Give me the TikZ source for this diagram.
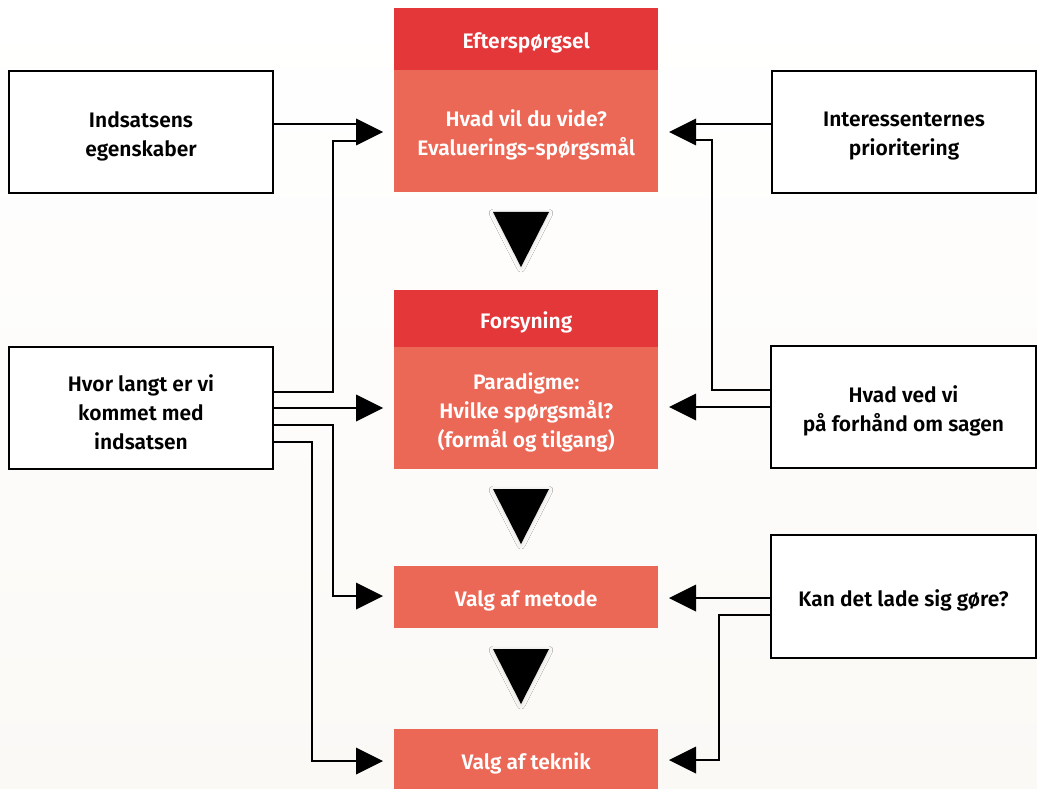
\documentclass[tikz,border=0pt]{standalone}
\usepackage{fontspec}
\setmainfont{Fira Sans}[BoldFont={Fira Sans SemiBold}]
\usetikzlibrary{shadows.blur}
\definecolor{hdr}{RGB}{227,55,58}
\definecolor{bdy}{RGB}{235,104,87}
\definecolor{bgb}{RGB}{251,249,246}
\tikzset{
  txt/.style={font=\bfseries\fontsize{21}{29}\selectfont, align=center, inner sep=0pt, yshift=-4pt},
  ltxt/.style={txt, text=black},
  wtxt/.style={txt, text=white},
  lbox/.style={draw=black, line width=2pt, fill=white, inner sep=0pt, anchor=north west, minimum width=264pt, minimum height=122pt},
  rhead/.style={fill=hdr, inner sep=0pt, anchor=north west, minimum width=264pt},
  rbody/.style={fill=bdy, inner sep=0pt, anchor=north west, minimum width=264pt},
  conn/.style={line width=2pt, line join=miter, draw=black},
  ahead/.style={fill=black},
  tri/.style={fill=black, blur shadow={shadow xshift=0pt, shadow yshift=-1pt, shadow blur radius=4pt, shadow opacity=14}}
}
\newcommand{\arrR}[2]{\fill[ahead] (#1-27,#2-13.5) -- (#1,#2) -- (#1-27,#2+13.5) -- cycle;}
\newcommand{\arrL}[2]{\fill[ahead] (#1+27,#2-13.5) -- (#1,#2) -- (#1+27,#2+13.5) -- cycle;}
\newcommand{\downtri}[1]{\fill[tri] (493,#1) -- (549,#1) -- (521,#1+55) -- cycle;}
\begin{document}
\begin{tikzpicture}[x=1pt,y=-1pt]
\useasboundingbox (0,0) rectangle (1037,789);
\shade[top color=white, bottom color=bgb] (0,0) rectangle (1037,789);

% central column
\node[rhead, minimum height=62pt] (efth) at (394,8) {};
\node[rbody, minimum height=122pt] (eftb) at (394,70) {};
\node[rhead, minimum height=57pt] (forh) at (394,290) {};
\node[rbody, minimum height=122pt] (forb) at (394,347) {};
\node[rbody, minimum height=62pt] (met) at (394,566) {};
\node[rbody, minimum height=60pt] (tek) at (394,729) {};
\node[wtxt] (efth-t) at (efth.center) {Efterspørgsel};
\node[wtxt] (eftb-t) at (eftb.center) {Hvad vil du vide?\\Evaluerings-spørgsmål};
\node[wtxt] (forh-t) at (forh.center) {Forsyning};
\node[wtxt] (forb-t) at (forb.center) {Paradigme:\\Hvilke spørgsmål?\\(formål og tilgang)};
\node[wtxt] (met-t) at (met.center) {Valg af metode};
\node[wtxt] (tek-t) at (tek.center) {Valg af teknik};

\downtri{212}
\downtri{489}
\downtri{649}

% side boxes
\node[lbox] (ind) at (8,70) {};
\node[lbox] (hvor) at (8,346) {};
\node[lbox] (int) at (771,70) {};
\node[lbox, minimum width=265pt] (hvad) at (770,345) {};
\node[lbox, minimum width=265pt, minimum height=123pt] (kan) at (770,534) {};
\node[ltxt] (ind-t) at (ind.center) {Indsatsens\\egenskaber};
\node[ltxt] (hvor-t) at (hvor.center) {Hvor langt er vi\\kommet med\\indsatsen};
\node[ltxt] (int-t) at (int.center) {Interessenternes\\prioritering};
\node[ltxt] (hvad-t) at (hvad.center) {Hvad ved vi\\på forhånd om sagen};
\node[ltxt] (kan-t) at (kan.center) {Kan det lade sig gøre?};

% left connectors
\coordinate (la) at (359,124);
\coordinate (lb) at (359,141);
\coordinate (lc) at (359,408);
\coordinate (ld) at (359,596);
\coordinate (le) at (359,761);
\draw[conn] (ind.east |- la) -- (la);
\draw[conn] (hvor.east |- 0,392) -| (333,141) -- (lb);
\draw[conn] (hvor.east |- lc) -- (lc);
\draw[conn] (hvor.east |- 0,425) -| (333,596) -- (ld);
\draw[conn] (hvor.east |- 0,442) -| (312,761) -- (le);
\arrR{383}{132}
\arrR{383}{408}
\arrR{383}{596}
\arrR{383}{761}

% right connectors
\coordinate (ra) at (693,124);
\coordinate (rb) at (693,140);
\coordinate (rc) at (693,407);
\coordinate (rd) at (693,598);
\coordinate (re) at (693,760);
\draw[conn] (int.west |- ra) -- (ra);
\draw[conn] (hvad.west |- 0,390) -| (712,140) -- (rb);
\draw[conn] (hvad.west |- rc) -- (rc);
\draw[conn] (kan.west |- rd) -- (rd);
\draw[conn] (kan.west |- 0,615) -| (719,760) -- (re);
\arrL{669}{132}
\arrL{669}{407}
\arrL{669}{598}
\arrL{669}{760}
\end{tikzpicture}
\end{document}
